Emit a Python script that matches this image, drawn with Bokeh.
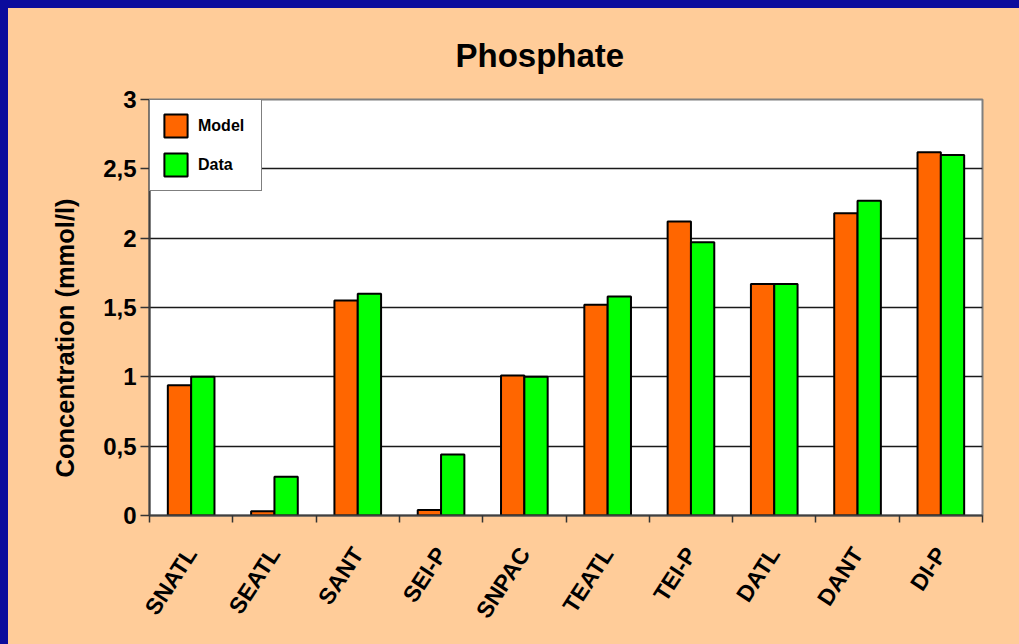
import math
from bokeh.plotting import figure
from bokeh.models import (FixedTicker, Range1d, Legend, LegendItem, Title,
                          GlobalInlineStyleSheet)
from bokeh.embed import file_html
from bokeh.resources import INLINE

# ---- data ----
categories = ["SNATL", "SEATL", "SANT", "SEI-P", "SNPAC",
              "TEATL", "TEI-P", "DATL", "DANT", "DI-P"]
model = [0.94, 0.03, 1.55, 0.04, 1.01, 1.52, 2.12, 1.67, 2.18, 2.62]
data = [1.00, 0.28, 1.60, 0.44, 1.00, 1.58, 1.97, 1.67, 2.27, 2.60]
y_ticks = [0, 0.5, 1, 1.5, 2, 2.5, 3]
y_tick_labels = ["0", "0,5", "1", "1,5", "2", "2,5", "3"]
series_names = ["Model", "Data"]
title_text = "Phosphate"
y_label = "Concentration (mmol/l)"

# ---- styles ----
FONT = "Liberation Sans"
PEACH = "#FFCC99"
BLUE = "#0B0B9C"
ORANGE = "#FF6600"
GREEN = "#00FF00"

n = len(categories)
centers = [i + 0.5 for i in range(n)]
bounds = [i for i in range(n + 1)]
bar_w = 0.28

p = figure(frame_width=833, frame_height=416,
           min_border_left=141, min_border_right=37,
           min_border_top=89, min_border_bottom=131,
           x_range=Range1d(0, n), y_range=Range1d(0, 3),
           output_backend="svg", toolbar_location=None, tools="")
p.stylesheets = [GlobalInlineStyleSheet(
    css=("html { background: linear-gradient(to bottom, %s 8px, transparent 8px), "
         "linear-gradient(to right, %s 8px, %s 8px) !important; "
         "background-repeat: no-repeat !important; overflow: hidden; } "
         "body { background: transparent !important; overflow: hidden; }")
        % (BLUE, BLUE, PEACH))]
p.styles = {"transform": "translate(8px, 8px)"}

p.background_fill_color = "white"
p.border_fill_color = PEACH
p.outline_line_color = "#7f7f7f"
p.outline_line_width = 2

r_model = p.vbar(x=[c - bar_w / 2 for c in centers], top=model, bottom=0,
                 width=bar_w, fill_color=ORANGE, line_color="black", line_width=2)
r_data = p.vbar(x=[c + bar_w / 2 for c in centers], top=data, bottom=0,
                width=bar_w, fill_color=GREEN, line_color="black", line_width=2)

# x axis: labels at centers, ticks at category boundaries (minor ticks)
xa = p.xaxis[0]
xa.ticker = FixedTicker(ticks=centers, minor_ticks=bounds)
xa.major_label_overrides = {c: lab for c, lab in zip(centers, categories)}
xa.major_tick_out = 0
xa.major_tick_in = 0
xa.minor_tick_out = 7
xa.minor_tick_in = 0
xa.minor_tick_line_color = "#333333"
xa.minor_tick_line_width = 1.5
xa.axis_line_color = "#404040"
xa.axis_line_width = 2
xa.major_label_orientation = math.radians(57)
xa.major_label_standoff = 27
xa.major_label_text_font = FONT
xa.major_label_text_font_style = "bold"
xa.major_label_text_font_size = "23px"
xa.major_label_text_color = "black"

ya = p.yaxis[0]
ya.ticker = FixedTicker(ticks=y_ticks, minor_ticks=[])
ya.major_label_overrides = {t: lab for t, lab in zip(y_ticks, y_tick_labels)}
ya.major_tick_out = 9
ya.major_tick_in = 0
ya.major_tick_line_color = "#333333"
ya.major_tick_line_width = 1.5
ya.axis_line_color = "#404040"
ya.axis_line_width = 2
ya.major_label_standoff = 4
ya.major_label_text_font = FONT
ya.major_label_text_font_style = "bold"
ya.major_label_text_font_size = "24px"
ya.major_label_text_color = "black"

p.xgrid.visible = False
p.ygrid.ticker = FixedTicker(ticks=y_ticks)
p.ygrid.grid_line_color = "#1a1a1a"
p.ygrid.grid_line_width = 1.3

# title
p.title = Title(text=title_text, align="left", offset=306, standoff=52,
                text_font=FONT, text_font_style="bold", text_font_size="33px",
                text_color="black")
# y axis label as a left-side title
p.add_layout(Title(text=y_label, align="left", offset=38, standoff=43,
                   text_font=FONT, text_font_style="bold", text_font_size="25.5px",
                   text_color="black"), "left")

legend = Legend(items=[LegendItem(label=series_names[0], renderers=[r_model]),
                       LegendItem(label=series_names[1], renderers=[r_data])],
                location="top_left", margin=0, padding=11, spacing=10,
                glyph_width=29, glyph_height=29, label_standoff=8, label_width=52,
                label_text_font=FONT, label_text_font_style="bold",
                label_text_font_size="16px", label_text_color="black",
                border_line_color="black", border_line_width=1.2,
                background_fill_color="white", background_fill_alpha=1)
p.add_layout(legend)

open("out.html", "w").write(file_html(p, INLINE))
